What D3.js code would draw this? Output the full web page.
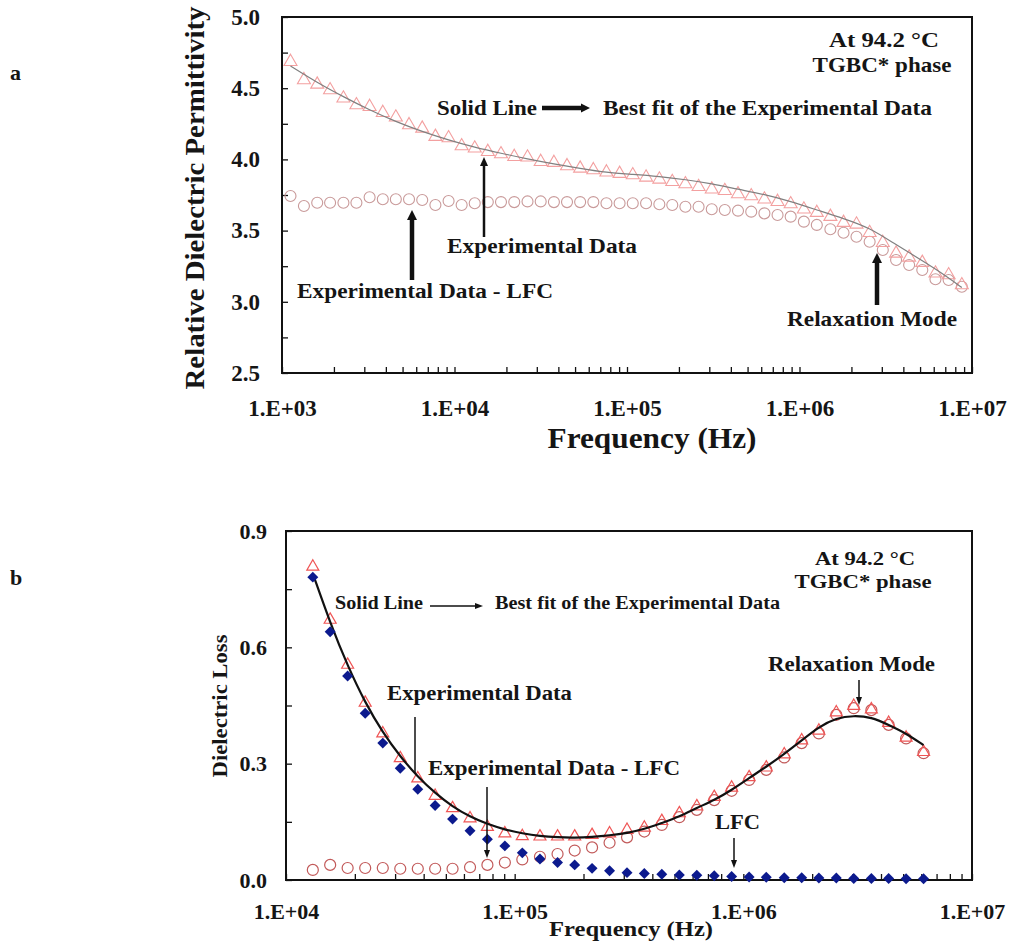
<!DOCTYPE html>
<html>
<head>
<meta charset="utf-8">
<script src="https://cdn.jsdelivr.net/npm/d3@7"></script>
<style>
  body { margin: 0; background: #fff; }
  svg text { font-family: "Liberation Serif", "Times New Roman", serif; font-weight: bold; fill: #151515; }
</style>
</head>
<body>
<svg id="chart" width="1010" height="947"></svg>
<script>
// Measurement frequencies (Hz), same sweep for both panels
const freq = [1.12e3, 1.34e3, 1.60e3, 1.90e3, 2.27e3, 2.70e3, 3.22e3, 3.84e3, 4.57e3, 5.45e3, 6.50e3, 7.75e3, 9.24e3,
              1.10e4, 1.31e4, 1.56e4, 1.86e4, 2.22e4, 2.65e4, 3.16e4, 3.77e4, 4.49e4, 5.35e4, 6.38e4, 7.60e4, 9.06e4,
              1.08e5, 1.29e5, 1.54e5, 1.83e5, 2.18e5, 2.60e5, 3.10e5, 3.69e5, 4.40e5, 5.25e5, 6.26e5, 7.46e5, 8.89e5,
              1.06e6, 1.26e6, 1.51e6, 1.80e6, 2.14e6, 2.55e6, 3.04e6, 3.63e6, 4.32e6, 5.15e6, 6.14e6, 7.32e6, 8.73e6];

// Panel a : relative permittivity
const permExp = [4.686, 4.558, 4.527, 4.487, 4.429, 4.382, 4.370, 4.328, 4.296, 4.242,
                 4.218, 4.160, 4.150, 4.094, 4.078, 4.054, 4.038, 4.019, 4.015, 3.984,
                 3.977, 3.954, 3.937, 3.926, 3.910, 3.900, 3.890, 3.874, 3.860, 3.843,
                 3.827, 3.808, 3.790, 3.780, 3.757, 3.743, 3.720, 3.703, 3.687, 3.650,
                 3.626, 3.598, 3.556, 3.544, 3.485, 3.415, 3.340, 3.312, 3.275, 3.200,
                 3.188, 3.118];
const permLFC = [3.743, 3.673, 3.696, 3.696, 3.696, 3.696, 3.734, 3.720, 3.720, 3.720,
                 3.715, 3.680, 3.708, 3.680, 3.692, 3.700, 3.700, 3.700, 3.705, 3.705,
                 3.700, 3.700, 3.700, 3.700, 3.692, 3.692, 3.692, 3.692, 3.685, 3.680,
                 3.668, 3.668, 3.650, 3.645, 3.640, 3.633, 3.621, 3.610, 3.598, 3.563,
                 3.540, 3.509, 3.485, 3.457, 3.422, 3.364, 3.294, 3.258, 3.223, 3.158,
                 3.153, 3.106];
const permFitFreq = [1.12e3, 1.60e3, 2.27e3, 3.22e3, 4.57e3, 6.50e3, 9.24e3, 1.31e4, 1.86e4, 2.65e4, 3.77e4, 5.35e4,
                     7.60e4, 1.08e5, 1.54e5, 2.18e5, 3.10e5, 4.40e5, 6.26e5, 8.89e5, 1.26e6, 1.80e6, 2.55e6, 3.63e6,
                     5.15e6, 7.32e6, 8.73e6];
const permFit = [4.656, 4.539, 4.440, 4.347, 4.265, 4.195, 4.136, 4.085, 4.043, 4.003, 3.968, 3.937,
                 3.907, 3.895, 3.880, 3.858, 3.830, 3.790, 3.755, 3.705, 3.645, 3.585, 3.520, 3.400,
                 3.290, 3.170, 3.100];

// Panel b : dielectric loss (freq index 14 .. 49)
const lossFreq = freq.slice(14, 50);
const lossExp = [0.808, 0.671, 0.555, 0.457, 0.378, 0.314, 0.262, 0.217, 0.185, 0.159,
                 0.137, 0.120, 0.113, 0.112, 0.112, 0.112, 0.116, 0.120, 0.129, 0.135,
                 0.152, 0.172, 0.190, 0.214, 0.238, 0.265, 0.290, 0.324, 0.360, 0.385,
                 0.432, 0.449, 0.440, 0.405, 0.367, 0.330];
const lossCorr = [0.781, 0.640, 0.526, 0.430, 0.353, 0.288, 0.234, 0.192, 0.157, 0.127,
                  0.105, 0.088, 0.070, 0.054, 0.045, 0.039, 0.030, 0.024, 0.019, 0.017,
                  0.015, 0.013, 0.012, 0.011, 0.009, 0.008, 0.007, 0.006, 0.006, 0.005,
                  0.005, 0.004, 0.004, 0.004, 0.003, 0.003];
const lossLFC = [0.026, 0.039, 0.031, 0.031, 0.031, 0.029, 0.029, 0.029, 0.029, 0.033,
                 0.039, 0.045, 0.053, 0.060, 0.067, 0.076, 0.084, 0.096, 0.110, 0.125,
                 0.142, 0.162, 0.181, 0.206, 0.230, 0.258, 0.284, 0.316, 0.353, 0.378,
                 0.426, 0.443, 0.438, 0.400, 0.365, 0.327];
const lossFit = [0.790, 0.663, 0.552, 0.457, 0.380, 0.318, 0.266, 0.224, 0.189, 0.163,
                 0.144, 0.130, 0.120, 0.113, 0.110, 0.109, 0.111, 0.115, 0.121, 0.131,
                 0.147, 0.163, 0.186, 0.206, 0.232, 0.263, 0.292, 0.325, 0.360, 0.395,
                 0.418, 0.424, 0.420, 0.400, 0.378, 0.348];

const svg = d3.select("#chart");

function addText(str, x, y, size, anchor, len, rotate) {
    const t = svg.append("text")
        .attr("x", x)
        .attr("y", y)
        .attr("text-anchor", anchor)
        .style("font-size", size + "px")
        .text(str);
    if (len) t.attr("textLength", len).attr("lengthAdjust", "spacingAndGlyphs");
    if (rotate) t.attr("transform", `rotate(-90, ${x}, ${y})`);
    return t;
}

function arrow(x1, y1, x2, y2, w, hl, hw) {
    const L = Math.hypot(x2 - x1, y2 - y1);
    const ux = (x2 - x1) / L, uy = (y2 - y1) / L;
    const bx = x2 - ux * hl, by = y2 - uy * hl;
    svg.append("line")
        .attr("x1", x1).attr("y1", y1).attr("x2", bx + ux).attr("y2", by + uy)
        .attr("stroke", "#111").attr("stroke-width", w);
    svg.append("path")
        .attr("d", `M${x2},${y2}L${bx - uy * hw / 2},${by + ux * hw / 2}L${bx + uy * hw / 2},${by - ux * hw / 2}Z`)
        .attr("fill", "#111");
}

function drawAxes(x, y, box, opt) {
    const decades = [];
    for (let e = Math.log10(x.domain()[0]); e <= Math.log10(x.domain()[1]); e++) decades.push(Math.pow(10, e));
    const minors = x.ticks().filter(d => !decades.some(m => Math.abs(m - d) / d < 1e-6));

    const xa = svg.append("g")
        .attr("transform", `translate(0, ${box.bottom})`)
        .call(d3.axisBottom(x).tickValues(decades).tickSize(-6).tickSizeOuter(0)
            .tickPadding(opt.xPad)
            .tickFormat(d => "1.E+" + String(Math.round(Math.log10(d))).padStart(2, "0")));
    const xm = svg.append("g")
        .attr("transform", `translate(0, ${box.bottom})`)
        .call(d3.axisBottom(x).tickValues(minors).tickSize(-6).tickSizeOuter(0).tickFormat(""));

    const ya = svg.append("g")
        .attr("transform", `translate(${box.left}, 0)`)
        .call(d3.axisLeft(y).tickValues(opt.yTicks).tickSize(-6).tickSizeOuter(0)
            .tickPadding(opt.yPad).tickFormat(d3.format(".1f")));
    const ym = svg.append("g")
        .attr("transform", `translate(${box.left}, 0)`)
        .call(d3.axisLeft(y).tickValues(opt.yMinor).tickSize(-6).tickSizeOuter(0).tickFormat(""));

    [xa, xm, ya, ym].forEach(g => {
        g.select(".domain").remove();
        g.selectAll("line").attr("stroke", "#111").attr("stroke-width", 1.3);
        g.selectAll("text").style("font-size", opt.labelSize + "px").attr("fill", "#151515");
    });

    svg.append("rect")
        .attr("x", box.left).attr("y", box.top)
        .attr("width", box.right - box.left).attr("height", box.bottom - box.top)
        .attr("fill", "none").attr("stroke", "#111").attr("stroke-width", 2);
}

// ---------- Panel a ----------
const boxA = { left: 282, right: 972, top: 17, bottom: 373 };
const xA = d3.scaleLog().domain([1e3, 1e7]).range([boxA.left, boxA.right]);
const yA = d3.scaleLinear().domain([2.5, 5.0]).range([boxA.bottom, boxA.top]);

drawAxes(xA, yA, boxA, {
    xPad: 27, yPad: 22, labelSize: 23,
    yTicks: [2.5, 3.0, 3.5, 4.0, 4.5, 5.0],
    yMinor: [2.75, 3.25, 3.75, 4.25, 4.75]
});

svg.append("g").selectAll("circle")
    .data(freq.map((f, i) => ({ f, v: permLFC[i] })))
    .join("circle")
    .attr("cx", d => xA(d.f)).attr("cy", d => yA(d.v)).attr("r", 5.5)
    .attr("fill", "none").attr("stroke", "#c99a9a").attr("stroke-width", 1.1);

svg.append("g").selectAll("path")
    .data(freq.map((f, i) => ({ f, v: permExp[i] })))
    .join("path")
    .attr("d", d3.symbol(d3.symbolTriangle, 73))
    .attr("transform", d => `translate(${xA(d.f)}, ${yA(d.v)})`)
    .attr("fill", "none").attr("stroke", "#f3a0a0").attr("stroke-width", 1.1);

svg.append("path")
    .datum(permFitFreq.map((f, i) => ({ f, v: permFit[i] })))
    .attr("d", d3.line().x(d => xA(d.f)).y(d => yA(d.v)).curve(d3.curveBasis))
    .attr("fill", "none").attr("stroke", "#808080").attr("stroke-width", 1.2);

addText("a", 10, 80, 22, "start");
addText("Relative Dielectric Permittivity", 204, 198, 28, "middle", 383, true);
addText("Frequency (Hz)", 652, 448, 30, "middle", 209);
addText("At 94.2 °C", 884, 47, 20, "middle", 110);
addText("TGBC* phase", 882, 72, 21, "middle", 139);
addText("Solid Line", 437, 115, 22, "start", 100);
arrow(542, 108, 590, 108, 4.5, 9, 9);
addText("Best fit of the Experimental Data", 603, 115, 22, "start", 329);
addText("Experimental Data", 447, 253, 22, "start", 190);
arrow(484, 237, 484, 157, 2.5, 9, 8);
addText("Experimental Data - LFC", 297, 298, 22, "start", 256);
arrow(412, 280, 412, 210, 4.5, 10, 10);
addText("Relaxation Mode", 787, 326, 22, "start", 170);
arrow(877, 305, 877, 253, 4.5, 10, 10);

// ---------- Panel b ----------
const boxB = { left: 286, right: 972, top: 531, bottom: 880 };
const xB = d3.scaleLog().domain([1e4, 1e7]).range([boxB.left, boxB.right]);
const yB = d3.scaleLinear().domain([0, 0.9]).range([boxB.bottom, boxB.top]);

drawAxes(xB, yB, boxB, {
    xPad: 23, yPad: 19, labelSize: 22,
    yTicks: [0, 0.3, 0.6, 0.9],
    yMinor: [0.15, 0.45, 0.75]
});

svg.append("g").selectAll("circle")
    .data(lossFreq.map((f, i) => ({ f, v: lossLFC[i] })))
    .join("circle")
    .attr("cx", d => xB(d.f)).attr("cy", d => yB(d.v)).attr("r", 5.5)
    .attr("fill", "none").attr("stroke", "#c25a5a").attr("stroke-width", 1.2);

svg.append("g").selectAll("path")
    .data(lossFreq.map((f, i) => ({ f, v: lossExp[i] })))
    .join("path")
    .attr("d", d3.symbol(d3.symbolTriangle, 62))
    .attr("transform", d => `translate(${xB(d.f)}, ${yB(d.v)})`)
    .attr("fill", "none").attr("stroke", "#ef5555").attr("stroke-width", 1.2);

svg.append("path")
    .datum(lossFreq.map((f, i) => ({ f, v: lossFit[i] })))
    .attr("d", d3.line().x(d => xB(d.f)).y(d => yB(d.v)).curve(d3.curveBasis))
    .attr("fill", "none").attr("stroke", "#111").attr("stroke-width", 2.2);

svg.append("g").selectAll("path")
    .data(lossFreq.map((f, i) => ({ f, v: lossCorr[i] })))
    .join("path")
    .attr("d", d3.symbol(d3.symbolSquare, 60))
    .attr("transform", d => `translate(${xB(d.f)}, ${yB(d.v)}) rotate(45)`)
    .attr("fill", "#0c1a8e");

addText("b", 10, 585, 22, "start");
addText("Dielectric Loss", 227, 706, 22, "middle", 143, true);
addText("Frequency (Hz)", 631, 936, 22, "middle", 164);
addText("At 94.2 °C", 865, 565, 18, "middle", 100);
addText("TGBC* phase", 863, 588, 19, "middle", 137);
addText("Solid Line", 335, 609, 18, "start", 88);
arrow(430, 606, 483, 606, 1.5, 8, 6);
addText("Best fit of the Experimental Data", 495, 609, 18, "start", 285);
addText("Experimental Data", 387, 700, 20, "start", 185);
svg.append("line").attr("x1", 415).attr("y1", 717).attr("x2", 415).attr("y2", 773)
    .attr("stroke", "#111").attr("stroke-width", 1.5);
addText("Experimental Data - LFC", 428, 775, 20, "start", 252);
arrow(487, 787, 487, 858, 1.5, 8, 6);
addText("LFC", 715, 829, 20, "start", 45);
arrow(734, 838, 734, 868, 1.5, 8, 6);
addText("Relaxation Mode", 768, 671, 20, "start", 167);
arrow(859, 680, 859, 705, 1.5, 8, 6);
</script>
</body>
</html>
